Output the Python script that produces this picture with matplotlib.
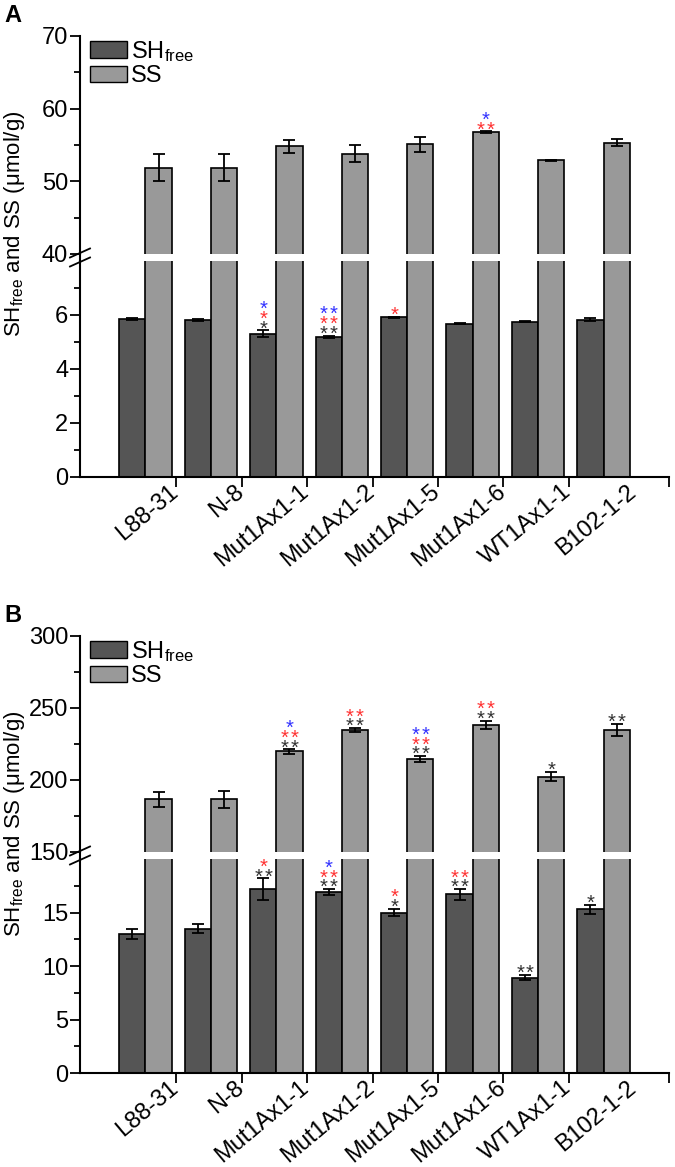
import matplotlib
matplotlib.use("Agg")
import matplotlib.pyplot as plt
from matplotlib.patches import Rectangle
from matplotlib.lines import Line2D
from matplotlib.transforms import ScaledTranslation

plt.rcParams["font.family"] = ["Liberation Sans", "DejaVu Sans"]
plt.rcParams["mathtext.default"] = "regular"

# ---- data ----
labels = ["L88-31", "N-8", "Mut1Ax1-1", "Mut1Ax1-2", "Mut1Ax1-5",
          "Mut1Ax1-6", "WT1Ax1-1", "B102-1-2"]

# panel A
sh_a = [5.85, 5.80, 5.30, 5.19, 5.91, 5.67, 5.75, 5.83]
sh_a_err = [0.03, 0.04, 0.13, 0.05, 0.03, 0.02, 0.02, 0.05]
ss_a = [51.9, 51.9, 54.8, 53.8, 55.1, 56.8, 52.9, 55.3]
ss_a_err = [1.8, 1.8, 0.85, 1.2, 1.0, 0.1, 0.1, 0.5]

# significance stars (count per row: black, red, blue)
sh_a_black = [0, 0, 1, 2, 0, 0, 0, 0]
sh_a_red = [0, 0, 1, 2, 1, 0, 0, 0]
sh_a_blue = [0, 0, 1, 2, 0, 0, 0, 0]
ss_a_black = [0, 0, 0, 0, 0, 0, 0, 0]
ss_a_red = [0, 0, 0, 0, 0, 2, 0, 0]
ss_a_blue = [0, 0, 0, 0, 0, 1, 0, 0]

# panel B
sh_b = [13.0, 13.5, 17.2, 16.9, 15.0, 16.7, 8.9, 15.3]
sh_b_err = [0.5, 0.4, 1.0, 0.3, 0.35, 0.5, 0.25, 0.4]
ss_b = [186.5, 186.5, 219.8, 234.6, 214.7, 238.1, 202.4, 234.8]
ss_b_err = [5.2, 6.0, 1.6, 1.5, 2.0, 3.0, 3.2, 4.0]

sh_b_black = [0, 0, 2, 2, 1, 2, 2, 1]
sh_b_red = [0, 0, 1, 2, 1, 2, 0, 0]
sh_b_blue = [0, 0, 0, 1, 0, 0, 0, 0]
ss_b_black = [0, 0, 2, 2, 2, 2, 1, 2]
ss_b_red = [0, 0, 2, 2, 2, 2, 0, 0]
ss_b_blue = [0, 0, 1, 0, 2, 0, 0, 0]

DARK = "#555555"
LIGHT = "#999999"
STAR_COLORS = ["#333333", "#ff3333", "#3333ff"]
FS = 17
W, H = 675, 1167


def fx(px):
    return px / W


def fy(py):
    return 1 - py / H


def add_stars(ax, xs, tops, rows):
    for i, x in enumerate(xs):
        level = 0
        for counts, color in zip(rows, STAR_COLORS):
            n = counts[i]
            if n == 0:
                continue
            for k in range(n):
                dx = (k - (n - 1) / 2) * 7.0
                ax.annotate("*", xy=(x, tops[i]), xytext=(dx, -3 + 7.0 * level),
                            textcoords="offset points", ha="center", va="baseline",
                            fontsize=14.5, color=color, annotation_clip=False)
            level += 1


def style_axis(ax):
    for s in ["top", "right"]:
        ax.spines[s].set_visible(False)
    for s in ["left", "bottom"]:
        ax.spines[s].set_linewidth(1.5)
    ax.tick_params(which="major", direction="out", length=7, width=1.3,
                   labelsize=FS, pad=1.5)
    ax.tick_params(which="minor", direction="out", length=4, width=1.3)


def panel(top_px, gap_px, bot_px, top_ticks, top_minor, bot_ticks, bot_minor,
          sh, sh_err, ss, ss_err, sh_rows, ss_rows, letter, top_lim, bot_lim):
    left, right = 80, 669
    ax_top = fig.add_axes([fx(left), fy(gap_px), fx(right - left), (gap_px - top_px) / H])
    ax_bot = fig.add_axes([fx(left), fy(bot_px), fx(right - left), (bot_px - gap_px - 7) / H])

    x = list(range(len(labels)))
    xd = [i - 0.2 for i in x]
    xl = [i + 0.2 for i in x]

    for ax in (ax_top, ax_bot):
        ax.bar(xd, sh, width=0.4, color=DARK, edgecolor="black", linewidth=1.2)
        ax.bar(xl, ss, width=0.4, color=LIGHT, edgecolor="black", linewidth=1.2)
        style_axis(ax)
        ax.set_xlim(-1, 8)

    ax_bot.errorbar(xd, sh, yerr=sh_err, fmt="none", ecolor="black",
                    elinewidth=1.3, capsize=4, capthick=1.3)
    ax_top.errorbar(xl, ss, yerr=ss_err, fmt="none", ecolor="black",
                    elinewidth=1.3, capsize=4, capthick=1.3)

    ax_top.set_ylim(*top_lim)
    ax_top.set_yticks(top_ticks)
    ax_top.set_yticks(top_minor, minor=True)
    ax_top.spines["bottom"].set_visible(False)
    ax_top.set_xticks([])

    ax_bot.set_ylim(*bot_lim)
    ax_bot.set_yticks(bot_ticks)
    ax_bot.set_yticks(bot_minor, minor=True)
    ax_bot.set_xticks([i + 0.47 for i in x])
    ax_bot.set_xticklabels(labels, rotation=40, ha="right", va="top",
                           rotation_mode="anchor", fontsize=17)
    shift = ScaledTranslation(-8 / 100, 8 / 100, fig.dpi_scale_trans)
    for t in ax_bot.get_xticklabels():
        t.set_transform(t.get_transform() + shift)
    ax_bot.xaxis.get_major_ticks()[-1].tick1line.set_visible(False)
    ax_bot.set_xticks([8], minor=True)
    ax_bot.tick_params(axis="x", which="minor", length=7)

    add_stars(ax_bot, xd, [a + b for a, b in zip(sh, sh_err)], sh_rows)
    add_stars(ax_top, xl, [a + b for a, b in zip(ss, ss_err)], ss_rows)

    # axis break marks
    y1, y2 = gap_px, gap_px + 7
    fig.add_artist(Line2D([fx(left), fx(left)], [fy(y1), fy(y2)], color="black", lw=1.5))
    for yy in (y1 - 1, y2 + 1):
        fig.add_artist(Line2D([fx(70), fx(90)], [fy(yy + 4.5), fy(yy - 4.5)],
                              color="black", lw=1.3))

    handles = [Rectangle((0, 0), 1, 1, facecolor=DARK, edgecolor="black", lw=1),
               Rectangle((0, 0), 1, 1, facecolor=LIGHT, edgecolor="black", lw=1)]
    ax_top.legend(handles, ["SH$_{free}$", "SS"], loc="upper left",
                  bbox_to_anchor=(fx(90), fy(top_px + 3)), bbox_transform=fig.transFigure,
                  frameon=False, fontsize=FS, borderpad=0, borderaxespad=0,
                  handlelength=1.55, handleheight=0.7, labelspacing=0.05,
                  handletextpad=0.2)

    fig.text(fx(15), fy(top_px + 188), "SH$_{free}$ and SS (μmol/g)", rotation=90,
             ha="center", va="center", fontsize=16)
    fig.text(fx(4), fy(top_px - 32), letter, fontsize=17, fontweight="bold",
             ha="left", va="top")


fig = plt.figure(figsize=(6.75, 11.67), dpi=100)

panel(36, 254, 477, [40, 50, 60, 70], [45, 55, 65], [0, 2, 4, 6], [1, 3, 5, 7],
      sh_a, sh_a_err, ss_a, ss_a_err,
      [sh_a_black, sh_a_red, sh_a_blue], [ss_a_black, ss_a_red, ss_a_blue],
      "A", (40, 70), (0, 8))

panel(636, 852, 1073, [150, 200, 250, 300], [175, 225, 275], [0, 5, 10, 15],
      [2.5, 7.5, 12.5, 17.5],
      sh_b, sh_b_err, ss_b, ss_b_err,
      [sh_b_black, sh_b_red, sh_b_blue], [ss_b_black, ss_b_red, ss_b_blue],
      "B", (150, 300), (0, 20))

plt.savefig("out.png", dpi=100)
